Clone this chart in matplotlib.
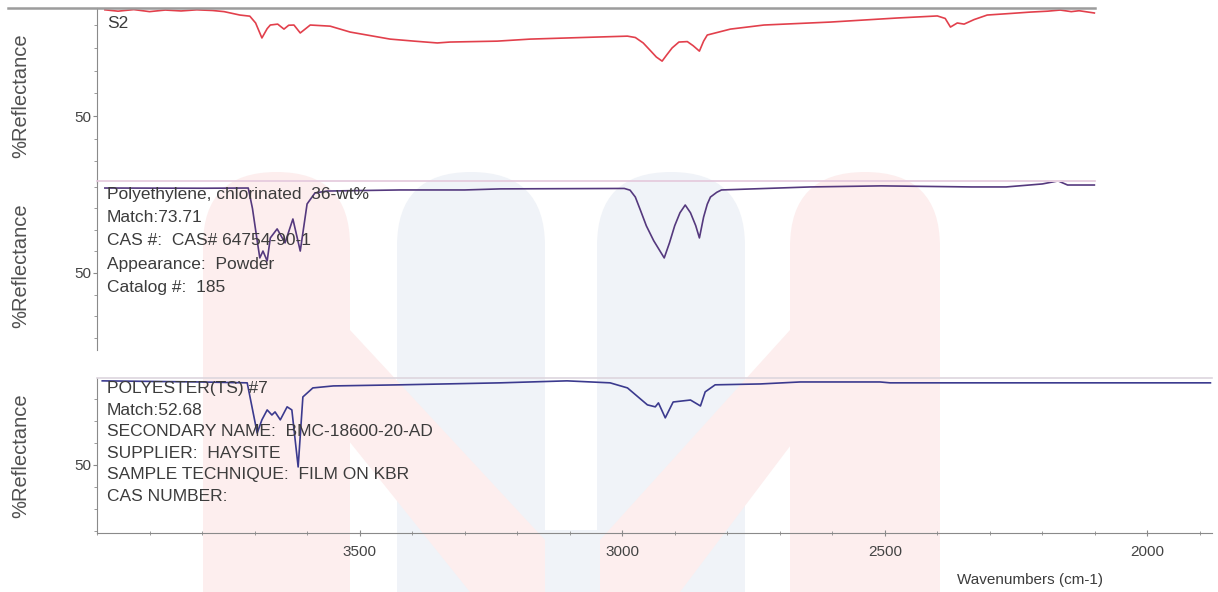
import matplotlib
matplotlib.use("Agg")
import matplotlib.pyplot as plt
from matplotlib.lines import Line2D
from matplotlib.patches import FancyBboxPatch, Polygon
from matplotlib.ticker import MultipleLocator, FixedLocator

plt.rcParams['font.family'] = ['Liberation Sans', 'DejaVu Sans']

# S2 sample spectrum (red)
s2_wn = [3985, 3960, 3930, 3900, 3870, 3840, 3810, 3780, 3758, 3728, 3709, 3698,
         3686, 3676, 3670, 3656, 3644, 3635, 3625, 3613, 3594, 3556, 3518, 3442,
         3396, 3352, 3328, 3238, 3175, 3048, 2990, 2975, 2960, 2945, 2935, 2924,
         2915, 2905, 2892, 2876, 2865, 2853, 2845, 2838, 2794, 2730, 2604, 2476,
         2400, 2385, 2375, 2362, 2349, 2330, 2305, 2260, 2223, 2190, 2166, 2145,
         2130, 2101]
s2_val = [96.8, 96.2, 96.9, 96.0, 96.7, 96.3, 96.8, 96.5, 96.0, 94.5, 94.0, 91.0,
          84.4, 88.5, 90.1, 90.5, 88.3, 90.0, 90.1, 86.6, 90.1, 89.6, 87.0, 83.9,
          83.0, 82.2, 82.6, 83.0, 83.9, 84.8, 85.2, 84.6, 82.2, 78.5, 76.0, 74.2,
          77.0, 80.0, 82.6, 82.8, 81.0, 78.6, 83.0, 85.7, 88.3, 90.1, 91.4, 93.2,
          94.1, 93.0, 89.2, 91.0, 90.5, 92.5, 94.5, 95.2, 95.8, 96.2, 96.7, 96.0,
          96.4, 95.4]

# Polyethylene, chlorinated 36 wt% (purple)
pe_wn = [3985, 3800, 3712, 3704, 3695, 3690, 3684, 3676, 3670, 3657, 3642, 3627,
         3613, 3600, 3585, 3562, 3423, 3300, 3232, 2996, 2985, 2975, 2965, 2954,
         2940, 2930, 2920, 2910, 2900, 2890, 2880, 2870, 2860, 2853, 2845, 2838,
         2832, 2820, 2811, 2642, 2507, 2335, 2269, 2200, 2170, 2152, 2101]
pe_val = [89.5, 89.4, 89.5, 80.0, 65.0, 57.0, 60.2, 55.6, 66.3, 70.5, 64.0, 75.1,
          60.2, 82.1, 87.2, 88.1, 88.6, 88.6, 89.1, 89.3, 88.5, 85.3, 79.0, 71.9,
          65.0, 61.0, 57.0, 64.0, 72.0, 78.0, 81.6, 78.0, 72.0, 66.3, 76.0, 82.0,
          85.3, 87.5, 88.6, 90.0, 90.5, 90.0, 90.0, 91.4, 92.8, 90.9, 90.9]

# POLYESTER(TS) #7 (blue)
pes_wn = [3990, 3804, 3714, 3695, 3686, 3676, 3667, 3661, 3651, 3638, 3629, 3617,
          3608, 3589, 3550, 3423, 3232, 3105, 3023, 2990, 2952, 2937, 2931, 2918,
          2903, 2870, 2851, 2842, 2823, 2737, 2661, 2509, 2490, 1880]
pes_val = [88.2, 87.7, 87.3, 64.5, 70.5, 75.0, 72.7, 74.1, 70.5, 76.4, 75.0, 49.1,
           80.9, 85.0, 85.9, 86.4, 87.3, 88.2, 87.3, 85.0, 77.3, 76.4, 78.2, 71.4,
           78.6, 79.5, 76.8, 83.2, 86.4, 86.8, 87.7, 87.7, 87.3, 87.3]

s2_text = ["S2"]
pe_text = ["Polyethylene, chlorinated  36-wt%", "Match:73.71",
           "CAS #:  CAS# 64754-90-1", "Appearance:  Powder", "Catalog #:  185"]
pes_text = ["POLYESTER(TS) #7", "Match:52.68",
            "SECONDARY NAME:  BMC-18600-20-AD", "SUPPLIER:  HAYSITE",
            "SAMPLE TECHNIQUE:  FILM ON KBR", "CAS NUMBER:"]

W, H = 1218, 592
fig = plt.figure(figsize=(W / 100, H / 100), dpi=100)

# faint logo watermark in the background
bg = fig.add_axes([0, 0, 1, 1], zorder=-5)
bg.set_xlim(0, W)
bg.set_ylim(H, 0)
bg.axis('off')
pink, blue = '#fdeeee', '#f0f3f8'
for x0, x1, c in [(203, 350, pink), (397, 545, blue), (597, 745, blue), (790, 940, pink)]:
    bg.add_patch(FancyBboxPatch((x0, 172), x1 - x0, 600,
                                boxstyle=f"round,pad=0,rounding_size={(x1 - x0) / 2}",
                                fc=c, ec='none'))
bg.add_patch(Polygon([(300, 380), (350, 330), (545, 540), (545, 592), (470, 592)], fc=pink, ec='none'))
bg.add_patch(Polygon([(840, 380), (790, 330), (600, 540), (600, 592), (680, 592)], fc=pink, ec='none'))
bg.add_patch(FancyBboxPatch((545, 530), 52, 80, boxstyle="square,pad=0", fc=blue, ec='none'))


def px_rect(top, bottom, left=97, right=1212):
    return [left / W, 1 - bottom / H, (right - left) / W, (bottom - top) / H]


panels = [
    (px_rect(8, 183), s2_wn, s2_val, '#e2404c', (20.5, 97.6), s2_text, 24, 23),
    (px_rect(182, 350), pe_wn, pe_val, '#55397e', (14.2, 92.3), pe_text, 195, 23),
    (px_rect(378, 533), pes_wn, pes_val, '#3b3a8e', (19.1, 89.5), pes_text, 389, 21.5),
]

axes = []
for rect, wn, val, col, ylim, texts, ty0, dty in panels:
    ax = fig.add_axes(rect)
    ax.patch.set_alpha(0)
    ax.plot(wn, val, color=col, lw=1.2)
    ax.set_xlim(4000, 1877)
    ax.set_ylim(*ylim)
    for s in ['top', 'right', 'bottom']:
        ax.spines[s].set_visible(False)
    ax.spines['left'].set_color('#8a8a8a')
    ax.spines['left'].set_linewidth(0.8)
    ax.yaxis.set_major_locator(FixedLocator([50]))
    ax.yaxis.set_minor_locator(MultipleLocator(10))
    ax.tick_params(axis='y', which='major', length=3, color='#8a8a8a', labelsize=11,
                   labelcolor='#444444', pad=1)
    ax.tick_params(axis='y', which='minor', length=2, color='#8a8a8a')
    ax.set_ylabel('%Reflectance', fontsize=14.5, color='#505050')
    ax.yaxis.set_label_coords(-0.060, 0.5)
    for i, t in enumerate(texts):
        fig.text(107 / W, 1 - (ty0 + i * dty) / H, t, fontsize=12.5, color='#3c3c3c',
                 va='center', ha='left')
    axes.append(ax)

for ax in axes[:2]:
    ax.tick_params(axis='x', which='both', bottom=False, labelbottom=False)

ax3 = axes[2]
ax3.spines['bottom'].set_visible(True)
ax3.spines['bottom'].set_color('#8a8a8a')
ax3.spines['bottom'].set_linewidth(0.8)
ax3.spines['top'].set_visible(True)
ax3.spines['top'].set_color('#ddd6de')
ax3.spines['top'].set_linewidth(1.2)
ax3.xaxis.set_major_locator(FixedLocator([3500, 3000, 2500, 2000]))
ax3.xaxis.set_minor_locator(MultipleLocator(100))
ax3.tick_params(axis='x', which='major', direction='inout', length=5, color='#8a8a8a',
                labelsize=11, labelcolor='#444444', pad=6)
ax3.tick_params(axis='x', which='minor', direction='inout', length=3, color='#8a8a8a')
ax3.set_xlabel('Wavenumbers (cm-1)', fontsize=11, color='#3c3c3c')
ax3.xaxis.set_label_coords(0.837, -0.26)

# separator lines at the top of the first two panels
fig.add_artist(Line2D([8 / W, 1095 / W], [1 - 8 / H, 1 - 8 / H], color='#9c9c9c', lw=1.8))
fig.add_artist(Line2D([97 / W, 1095 / W], [1 - 181 / H, 1 - 181 / H], color='#e4c8dc', lw=1.2))

fig.savefig('out.png', dpi=100)
